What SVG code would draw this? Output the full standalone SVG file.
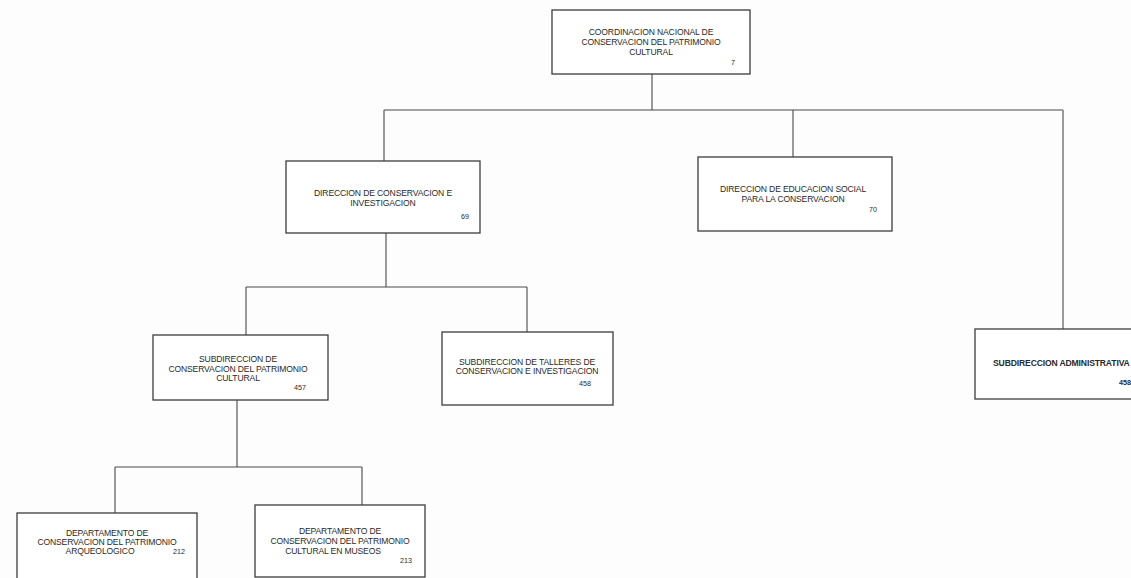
<svg xmlns="http://www.w3.org/2000/svg" width="1131" height="578" viewBox="0 0 1131 578">
  <style>
    .box { fill: #ffffff; stroke: #3c3c3c; stroke-width: 1.3; }
    .wire { fill: none; stroke: #4a4a4a; stroke-width: 1.1; }
    .lbl { font-family: "Liberation Sans", Arial, sans-serif; font-size: 8.6px; fill: #2a2a2a; text-anchor: middle; letter-spacing: -0.15px; }
    .num { font-family: "Liberation Sans", Arial, sans-serif; font-size: 7.2px; fill: #2a2a2a; text-anchor: end; }
    .bold { font-weight: bold; }
  </style>
  <rect width="1131" height="578" fill="#fdfdfd"/>

  <!-- connectors -->
  <g id="connectors">
    <path class="wire" d="M652 74 V110 M384 110 H1063 M384 110 V161 M793 110 V157 M1063 110 V329"/>
    <path class="wire" d="M386 233 V287 M246 287 H527 M246 287 V335 M527 287 V332"/>
    <path class="wire" d="M237 400 V467 M115 467 H362 M115 467 V513 M362 467 V505"/>
  </g>

  <g id="coordinacion-nacional">
    <rect class="box" x="552" y="10" width="198" height="64"/>
    <text class="lbl" x="651" y="35">COORDINACION NACIONAL DE</text>
    <text class="lbl" x="651" y="45">CONSERVACION DEL PATRIMONIO</text>
    <text class="lbl" x="651" y="55">CULTURAL</text>
    <text class="num" x="735" y="65">7</text>
  </g>

  <g id="direccion-conservacion">
    <rect class="box" x="286" y="161" width="194" height="72"/>
    <text class="lbl" x="383" y="196">DIRECCION DE CONSERVACION E</text>
    <text class="lbl" x="383" y="206">INVESTIGACION</text>
    <text class="num" x="469" y="219">69</text>
  </g>

  <g id="direccion-educacion">
    <rect class="box" x="698" y="157" width="194" height="74"/>
    <text class="lbl" x="793" y="192">DIRECCION DE EDUCACION SOCIAL</text>
    <text class="lbl" x="793" y="202">PARA LA CONSERVACION</text>
    <text class="num" x="877" y="212">70</text>
  </g>

  <g id="subdireccion-patrimonio">
    <rect class="box" x="153" y="335" width="175" height="65"/>
    <text class="lbl" x="238" y="362">SUBDIRECCION DE</text>
    <text class="lbl" x="238" y="372">CONSERVACION DEL PATRIMONIO</text>
    <text class="lbl" x="238" y="381">CULTURAL</text>
    <text class="num" x="306" y="390">457</text>
  </g>

  <g id="subdireccion-talleres">
    <rect class="box" x="442" y="332" width="171" height="73"/>
    <text class="lbl" x="527" y="365">SUBDIRECCION DE TALLERES DE</text>
    <text class="lbl" x="527" y="374">CONSERVACION E INVESTIGACION</text>
    <text class="num" x="591" y="386">458</text>
  </g>

  <g id="subdireccion-administrativa">
    <rect class="box" x="975" y="329" width="170" height="70"/>
    <text class="lbl bold" x="993" y="366" style="text-anchor:start">SUBDIRECCION ADMINISTRATIVA</text>
    <text class="num bold" x="1131" y="385">458</text>
  </g>

  <g id="departamento-arqueologico">
    <rect class="box" x="17" y="513" width="180" height="75"/>
    <text class="lbl" x="107" y="536">DEPARTAMENTO DE</text>
    <text class="lbl" x="107" y="545">CONSERVACION DEL PATRIMONIO</text>
    <text class="lbl" x="100" y="554">ARQUEOLOGICO</text>
    <text class="num" x="185" y="554">212</text>
  </g>

  <g id="departamento-museos">
    <rect class="box" x="255" y="505" width="170" height="72"/>
    <text class="lbl" x="340" y="534">DEPARTAMENTO DE</text>
    <text class="lbl" x="340" y="544">CONSERVACION DEL PATRIMONIO</text>
    <text class="lbl" x="333" y="554">CULTURAL EN MUSEOS</text>
    <text class="num" x="412" y="563">213</text>
  </g>
</svg>
